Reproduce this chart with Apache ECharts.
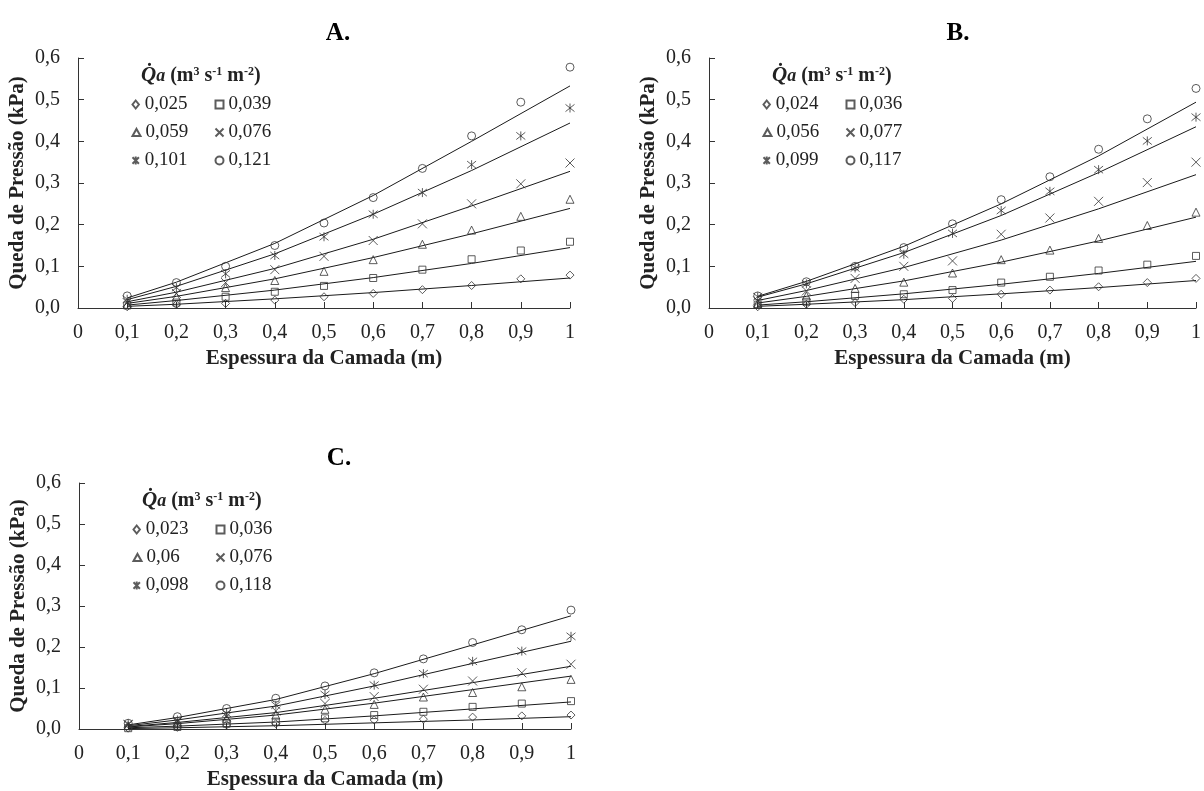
<!DOCTYPE html>
<html>
<head>
<meta charset="utf-8">
<script src="https://cdn.jsdelivr.net/npm/echarts@6/dist/echarts.min.js"></script>
<style>
  html, body { margin: 0; padding: 0; background: #fff; }
  #chart { width: 1204px; height: 791px; }
</style>
</head>
<body>
<div id="chart"></div>
<script>
// x das medições e x das curvas ajustadas
const xPoints = [0.1, 0.2, 0.3, 0.4, 0.5, 0.6, 0.7, 0.8, 0.9, 1.0];
const xFit = [0.1, 0.2, 0.4, 0.6, 0.8, 1.0];

// A.
const namesA = ['0,025', '0,039', '0,059', '0,076', '0,101', '0,121'];
const pointsA = [
  [0.003, 0.008, 0.011, 0.019, 0.027, 0.035, 0.044, 0.054, 0.070, 0.079],
  [0.006, 0.013, 0.027, 0.039, 0.053, 0.072, 0.092, 0.117, 0.138, 0.159],
  [0.009, 0.027, 0.049, 0.066, 0.088, 0.116, 0.153, 0.187, 0.220, 0.261],
  [0.013, 0.035, 0.061, 0.092, 0.124, 0.162, 0.202, 0.250, 0.298, 0.348],
  [0.021, 0.049, 0.082, 0.126, 0.171, 0.225, 0.277, 0.344, 0.413, 0.480],
  [0.029, 0.061, 0.100, 0.150, 0.204, 0.265, 0.335, 0.413, 0.494, 0.578]
];
const fitA = [
  [0.004, 0.009, 0.022, 0.037, 0.054, 0.072],
  [0.007, 0.018, 0.043, 0.073, 0.107, 0.145],
  [0.011, 0.028, 0.070, 0.121, 0.178, 0.239],
  [0.015, 0.038, 0.095, 0.165, 0.245, 0.328],
  [0.020, 0.052, 0.130, 0.225, 0.330, 0.444],
  [0.024, 0.062, 0.155, 0.270, 0.400, 0.533]
];

// B.
const namesB = ['0,024', '0,036', '0,056', '0,077', '0,099', '0,117'];
const pointsB = [
  [0.003, 0.009, 0.013, 0.021, 0.023, 0.033, 0.043, 0.051, 0.061, 0.071],
  [0.008, 0.015, 0.029, 0.033, 0.043, 0.061, 0.075, 0.090, 0.104, 0.125],
  [0.011, 0.029, 0.047, 0.062, 0.084, 0.116, 0.139, 0.167, 0.198, 0.230],
  [0.017, 0.041, 0.071, 0.100, 0.113, 0.177, 0.216, 0.256, 0.301, 0.350],
  [0.027, 0.058, 0.096, 0.129, 0.179, 0.234, 0.280, 0.332, 0.401, 0.458],
  [0.029, 0.063, 0.100, 0.145, 0.202, 0.260, 0.315, 0.381, 0.454, 0.527]
];
const fitB = [
  [0.004, 0.009, 0.020, 0.034, 0.049, 0.066],
  [0.007, 0.015, 0.034, 0.057, 0.083, 0.112],
  [0.012, 0.028, 0.065, 0.110, 0.161, 0.218],
  [0.018, 0.042, 0.097, 0.163, 0.238, 0.320],
  [0.026, 0.058, 0.133, 0.222, 0.325, 0.435],
  [0.028, 0.064, 0.148, 0.250, 0.365, 0.494]
];

// C.
const namesC = ['0,023', '0,036', '0,06', '0,076', '0,098', '0,118'];
const pointsC = [
  [0.002, 0.004, 0.010, 0.013, 0.021, 0.022, 0.024, 0.029, 0.032, 0.034],
  [0.002, 0.005, 0.013, 0.018, 0.026, 0.034, 0.042, 0.054, 0.062, 0.068],
  [0.008, 0.014, 0.026, 0.034, 0.048, 0.060, 0.078, 0.089, 0.103, 0.121],
  [0.010, 0.018, 0.030, 0.044, 0.062, 0.079, 0.097, 0.117, 0.137, 0.158],
  [0.013, 0.022, 0.038, 0.058, 0.084, 0.107, 0.135, 0.165, 0.190, 0.226],
  [0.014, 0.030, 0.050, 0.075, 0.105, 0.137, 0.171, 0.211, 0.242, 0.290]
];
const fitC = [
  [0.001, 0.003, 0.008, 0.015, 0.022, 0.030],
  [0.003, 0.007, 0.017, 0.032, 0.049, 0.066],
  [0.005, 0.013, 0.034, 0.063, 0.096, 0.129],
  [0.006, 0.016, 0.040, 0.075, 0.113, 0.153],
  [0.008, 0.022, 0.056, 0.105, 0.160, 0.214],
  [0.010, 0.028, 0.072, 0.135, 0.205, 0.276]
];

const FONT = '"Liberation Serif", "Times New Roman", serif';
const INK = '#222';

// marcadores: losango, quadrado, triângulo, x, asterisco, círculo
const symbols = [
  'path://M5,0L9,5L5,10L1,5Z',
  'path://M0,0L10,0L10,10L0,10Z',
  'path://M5,0L10,9L0,9Z',
  'path://M0,0L10,10M10,0L0,10',
  'path://M1,1L9,9M9,1L1,9M5,0L5,10',
  'path://M10,5A5,5,0,1,1,0,5A5,5,0,1,1,10,5Z'
];
const symbolSizes = [8, 7, 8, 9, 9, 8];

const panels = [
  { key: 'A', label: 'A.', names: namesA, pts: pointsA, fit: fitA, grid: { left: 78, top: 58, width: 492, height: 250 } },
  { key: 'B', label: 'B.', names: namesB, pts: pointsB, fit: fitB, grid: { left: 709, top: 58, width: 492, height: 250 } },
  { key: 'C', label: 'C.', names: namesC, pts: pointsC, fit: fitC, grid: { left: 79, top: 483, width: 492, height: 246 } }
];

const fmt = v => {
  if (Math.abs(v) < 1e-9) return '0';
  if (Math.abs(v - 1) < 1e-9) return '1';
  return v.toFixed(1).replace('.', ',');
};

const grid = [], xAxis = [], yAxis = [], series = [], legend = [], graphic = [];

panels.forEach((p, gi) => {
  const g = p.grid;
  grid.push(g);
  xAxis.push({
    gridIndex: gi, type: 'value', min: 0, max: 1, interval: 0.1,
    name: 'Espessura da Camada (m)', nameLocation: 'middle', nameGap: 40,
    nameTextStyle: { fontFamily: FONT, fontWeight: 'bold', fontSize: 21, color: INK },
    axisLine: { lineStyle: { color: '#333', width: 1 } },
    axisTick: { inside: true, length: 6, lineStyle: { color: '#333' } },
    axisLabel: { margin: 15, fontFamily: FONT, fontSize: 20, color: INK, formatter: fmt, showMaxLabel: true },
    splitLine: { show: false }
  });
  yAxis.push({
    gridIndex: gi, type: 'value', min: 0, max: 0.6, interval: 0.1,
    name: 'Queda de Pressão (kPa)', nameLocation: 'middle', nameGap: 50,
    nameTextStyle: { fontFamily: FONT, fontWeight: 'bold', fontSize: 21, color: INK },
    axisLine: { show: true, lineStyle: { color: '#333', width: 1 } },
    axisTick: { show: true, inside: true, length: 6, lineStyle: { color: '#333' } },
    axisLabel: { margin: 18, fontFamily: FONT, fontSize: 20, color: INK, formatter: v => v.toFixed(1).replace('.', ',') },
    splitLine: { show: false }
  });

  p.names.forEach((n, i) => {
    series.push({
      name: p.key + '|' + n, type: 'scatter', xAxisIndex: gi, yAxisIndex: gi, z: 3,
      symbol: symbols[i], symbolSize: symbolSizes[i],
      itemStyle: { color: 'none', borderColor: '#333', borderWidth: 1 },
      data: xPoints.map((x, k) => [x, p.pts[i][k]])
    });
  });
  p.names.forEach((n, i) => {
    series.push({
      name: 'fit' + p.key + i, type: 'line', xAxisIndex: gi, yAxisIndex: gi, z: 2,
      symbol: 'none', silent: true,
      lineStyle: { color: '#1a1a1a', width: 1 },
      data: xFit.map((x, k) => [x, p.fit[i][k]])
    });
  });

  // legenda em 3 linhas x 2 colunas
  const rowY = [47, 75, 103];
  const colX = [56, 139];
  p.names.forEach((n, i) => {
    legend.push({
      data: [p.key + '|' + n],
      left: g.left + colX[i % 2] - 4,
      top: g.top + rowY[Math.floor(i / 2)] - 10,
      padding: 0, itemWidth: 8, itemHeight: 8, selectedMode: false,
      formatter: name => name.split('|')[1],
      textStyle: { fontFamily: FONT, fontSize: 19, color: INK, padding: [0, 0, 0, 0] }
    });
  });

  graphic.push({
    type: 'text', x: g.left + 63, y: g.top + 18,
    style: {
      text: '{q|Q̇}{a|a}{n| (m}{s|3}{n| s}{s|-1}{n| m}{s|-2}{n|)}',
      verticalAlign: 'middle', fill: INK,
      rich: {
        q: { fontFamily: FONT, fontStyle: 'italic', fontWeight: 'bold', fontSize: 21, fill: INK },
        a: { fontFamily: FONT, fontStyle: 'italic', fontWeight: 'bold', fontSize: 18, fill: INK },
        n: { fontFamily: FONT, fontWeight: 'bold', fontSize: 20, fill: INK },
        s: { fontFamily: FONT, fontWeight: 'bold', fontSize: 12, fill: INK, verticalAlign: 'top' }
      }
    }
  });
  graphic.push({
    type: 'text', x: g.left + (p.key === 'B' ? 249 : 260), y: g.top - 24,
    style: {
      text: p.label, align: 'center', verticalAlign: 'middle', fill: '#000',
      font: 'bold 25px ' + FONT
    }
  });
});

const chart = echarts.init(document.getElementById('chart'));
chart.setOption({
  backgroundColor: '#fff',
  animation: false,
  grid, xAxis, yAxis, series, legend, graphic
});
</script>
</body>
</html>
